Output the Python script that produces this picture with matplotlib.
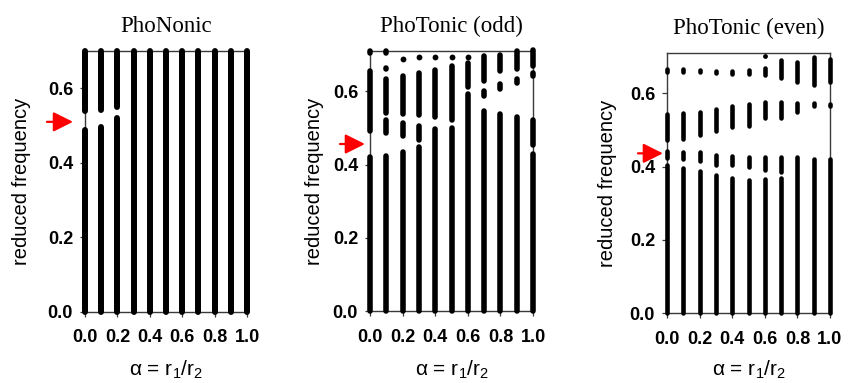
import matplotlib
matplotlib.use('Agg')
import matplotlib.pyplot as plt
from matplotlib import transforms

# ---------------- data ----------------
alpha = [0.0, 0.1, 0.2, 0.3, 0.4, 0.5, 0.6, 0.7, 0.8, 0.9, 1.0]

# frequency bands (lo, hi) for each alpha value
phononic_bands = [
    [(0.0, 0.495), (0.531, 0.70)],
    [(0.0, 0.503), (0.534, 0.70)],
    [(0.0, 0.528), (0.543, 0.70)],
    [(0.0, 0.70)],
    [(0.0, 0.70)],
    [(0.0, 0.70)],
    [(0.0, 0.70)],
    [(0.0, 0.70)],
    [(0.0, 0.70)],
    [(0.0, 0.70)],
    [(0.0, 0.70)],
]

odd_bands = [
    [(0.0, 0.427), (0.483, 0.663), (0.698, 0.710)],
    [(0.0, 0.430), (0.479, 0.530), (0.533, 0.642), (0.654, 0.671), (0.697, 0.710)],
    [(0.0, 0.442), (0.470, 0.522), (0.531, 0.649), (0.681, 0.695)],
    [(0.0, 0.455), (0.460, 0.513), (0.529, 0.658), (0.686, 0.700)],
    [(0.0, 0.505), (0.522, 0.667), (0.686, 0.700)],
    [(0.0, 0.508), (0.514, 0.677), (0.686, 0.700)],
    [(0.0, 0.601), (0.604, 0.684), (0.688, 0.700)],
    [(0.0, 0.554), (0.580, 0.609), (0.620, 0.703)],
    [(0.0, 0.545), (0.598, 0.627), (0.647, 0.707)],
    [(0.0, 0.536), (0.616, 0.642), (0.652, 0.710)],
    [(0.0, 0.435), (0.447, 0.530), (0.634, 0.658), (0.661, 0.713)],
]

even_bands = [
    [(0.0, 0.410), (0.417, 0.449), (0.467, 0.549), (0.651, 0.672)],
    [(0.0, 0.402), (0.415, 0.447), (0.470, 0.552), (0.651, 0.672)],
    [(0.0, 0.395), (0.408, 0.445), (0.479, 0.555), (0.651, 0.669)],
    [(0.0, 0.383), (0.399, 0.437), (0.492, 0.563), (0.649, 0.667)],
    [(0.0, 0.374), (0.397, 0.436), (0.501, 0.572), (0.647, 0.667)],
    [(0.0, 0.370), (0.392, 0.433), (0.504, 0.578), (0.647, 0.669)],
    [(0.0, 0.372), (0.383, 0.431), (0.525, 0.583), (0.643, 0.674), (0.697, 0.705)],
    [(0.0, 0.375), (0.378, 0.431), (0.526, 0.583), (0.635, 0.696)],
    [(0.0, 0.431), (0.543, 0.581), (0.624, 0.693)],
    [(0.0, 0.428), (0.558, 0.579), (0.617, 0.704)],
    [(0.0, 0.428), (0.558, 0.578), (0.624, 0.699)],
]

panel_bands = [phononic_bands, odd_bands, even_bands]
titles = ['PhoNonic', 'PhoTonic (odd)', 'PhoTonic (even)']
arrow_freq = [0.510, 0.456, 0.436]
y_max = [0.70, 0.71, 0.71]
xticks = [0.0, 0.2, 0.4, 0.6, 0.8, 1.0]
xtick_labels = ['0.0', '0.2', '0.4', '0.6', '0.8', '1.0']
yticks = [0.0, 0.2, 0.4, 0.6]
ytick_labels = ['0.0', '0.2', '0.4', '0.6']

# ---------------- layout / style ----------------
DPI = 100
W, H = 849, 383
axes_px = [(85, 51, 162, 261), (370, 51, 163, 260), (667, 53, 163, 260)]  # left, top, w, h
bar_lw = [4.3, 4.0, 3.3]
ylabel_x = [-0.335, -0.280, -0.305]
arrow_tip = [-0.074, -0.031, -0.025]
arrow_tail = [-0.235, -0.184, -0.178]

sans = 'Liberation Sans'
serif = 'Liberation Serif'
plt.rcParams['mathtext.fontset'] = 'custom'
plt.rcParams['mathtext.rm'] = sans
plt.rcParams['mathtext.it'] = sans + ':italic'

fig = plt.figure(figsize=(W / DPI, H / DPI), dpi=DPI)

for i in range(3):
    l, t, w, h = axes_px[i]
    ax = fig.add_axes([l / W, (H - t - h) / H, w / W, h / H])
    ymax = y_max[i]
    ax.set_xlim(0, 1.0)
    ax.set_ylim(0, ymax)
    lw = bar_lw[i]
    r = (lw / 72 * DPI / 2) / h * ymax  # cap radius in data units
    for a, bands in zip(alpha, panel_bands[i]):
        for lo, hi in bands:
            lo2 = lo + r if lo > 0.001 else lo
            hi2 = hi - r if hi < ymax - 0.001 else hi
            if hi2 <= lo2:
                mid = (lo + hi) / 2
                ax.plot([a], [mid], 'o', ms=lw * 1.05, color='black', mew=0,
                        clip_on=False, zorder=3)
            else:
                ax.plot([a, a], [lo2, hi2], color='black', lw=lw,
                        solid_capstyle='round', clip_on=False, zorder=3)

    for s in ax.spines.values():
        s.set_color('#3a3a3a')
        s.set_linewidth(1.0)

    ax.set_xticks(xticks)
    ax.set_xticklabels(xtick_labels)
    ax.set_yticks(yticks)
    ax.set_yticklabels(ytick_labels)
    ax.tick_params(axis='both', direction='out', length=3.6, width=0.9,
                   color='#3a3a3a')
    ax.tick_params(axis='x', pad=9.0)
    ax.tick_params(axis='y', pad=5.0)
    for lab in ax.get_xticklabels() + ax.get_yticklabels():
        lab.set_fontfamily(sans)
        lab.set_fontweight('bold')
        lab.set_fontsize(13)

    ax.set_title(titles[i], fontfamily=serif, fontsize=16.5, pad=13.5)
    ax.set_ylabel('reduced frequency', fontfamily=sans, fontsize=14.5)
    ax.yaxis.set_label_coords(ylabel_x[i], 0.5)
    ax.set_xlabel(r'α = r$_1$/r$_2$', fontfamily=sans, fontsize=15,
                  labelpad=9.5 - (t + h - 311) * 0.72)

    trans = transforms.blended_transform_factory(ax.transAxes, ax.transData)
    ax.annotate('', xy=(arrow_tip[i], arrow_freq[i]),
                xytext=(arrow_tail[i], arrow_freq[i]),
                xycoords=trans, textcoords=trans, annotation_clip=False,
                arrowprops=dict(arrowstyle='-|>,head_length=0.6,head_width=0.3',
                                color='red', lw=1.6, shrinkA=0, shrinkB=0,
                                mutation_scale=20))

fig.savefig('out.png', dpi=DPI)
